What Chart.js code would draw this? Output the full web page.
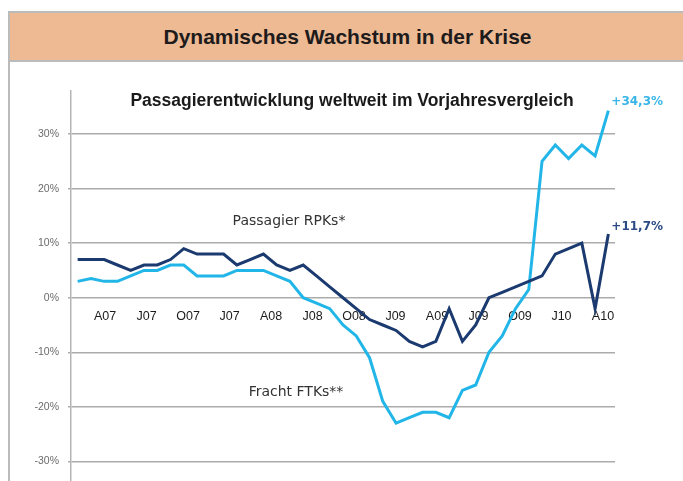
<!DOCTYPE html>
<html>
<head>
<meta charset="utf-8">
<title>Dynamisches Wachstum in der Krise</title>
<style>
  html, body { margin: 0; padding: 0; width: 683px; height: 481px; overflow: hidden; background: #fff; }
  .head {
    position: absolute; left: 8px; top: 11px; width: 690px; height: 47px;
    background: #EDBA93; border: 2px solid #BBBBBB; border-right: none;
    font: bold 21px "Liberation Sans", Arial, sans-serif; color: #1E1B1C;
    line-height: 47px; text-align: left;
  }
  .head span { display: inline-block; width: 675px; text-align: center; }
  .frame { position: absolute; left: 8px; top: 62px; width: 2px; height: 420px; background: #BBBBBB; }
  canvas { position: absolute; left: 0; top: 0; }
</style>
</head>
<body>
<canvas id="growthChart" width="683" height="481"></canvas>
<div class="head"><span>Dynamisches Wachstum in der Krise</span></div>
<div class="frame"></div>
<script src="https://cdn.jsdelivr.net/npm/chart.js@4/dist/chart.umd.min.js"></script>
<script>
  // monthly values, % change vs. previous year
  const rpk = [7, 7, 7, 6, 5, 6, 6, 7, 9, 8, 8, 8, 6, 7, 8, 6, 5, 6, 4, 2, 0, -2, -4, -5, -6, -8, -9, -8, -2, -8, -5, 0, 1, 2, 3, 4, 8, 9, 10, -2, 11.7];
  const ftk = [3, 3.5, 3, 3, 4, 5, 5, 6, 6, 4, 4, 4, 5, 5, 5, 4, 3, 0, -1, -2, -5, -7, -11, -19, -23, -22, -21, -21, -22, -17, -16, -10, -7, -2, 1.5, 25, 28, 25.5, 28, 26, 34.3];
  const periods = rpk.map((v, i) => 'M' + (i + 1));

  // axis labels as printed under the zero line
  const quarterLabels = ['A07', 'J07', 'O07', 'J07', 'A08', 'J08', 'O08', 'J09', 'A09', 'J09', 'O09', 'J10', 'A10'];
  const yTicks = [-30, -20, -10, 0, 10, 20, 30];

  const subtitle = 'Passagierentwicklung weltweit im Vorjahresvergleich';
  const rpkName = 'Passagier RPKs*';
  const ftkName = 'Fracht FTKs**';
  const rpkLast = '+11,7%';
  const ftkLast = '+34,3%';

  const navy = '#1B3A6F';
  const cyan = '#22B6E8';

  const textPlugin = {
    id: 'texts',
    afterDatasetsDraw(chart) {
      let ctx = chart.ctx;
      let xs = chart.scales.x, ys = chart.scales.y;
      ctx.save();
      ctx.textBaseline = 'alphabetic';

      ctx.fillStyle = '#1A1A1A';
      ctx.textAlign = 'center';
      ctx.font = 'bold 17.5px "Liberation Sans", Arial, sans-serif';
      ctx.fillText(subtitle, 352, 106);

      ctx.fillStyle = '#333333';
      ctx.font = '14px "DejaVu Sans", Verdana, sans-serif';
      ctx.fillText(rpkName, 289, 225);
      ctx.fillText(ftkName, 296, 396);

      // end values next to the last points
      let last = rpk.length - 1;
      ctx.textAlign = 'left';
      ctx.font = 'bold 12px "DejaVu Sans", Verdana, sans-serif';
      ctx.fillStyle = '#3AB6E6';
      ctx.fillText(ftkLast, xs.getPixelForValue(last) + 3, ys.getPixelForValue(ftk[last]) - 6);
      ctx.fillStyle = '#2C4B86';
      ctx.fillText(rpkLast, xs.getPixelForValue(last) + 3, ys.getPixelForValue(rpk[last]) - 4);
      ctx.restore();
    }
  };

  let ctx = document.getElementById('growthChart').getContext('2d');
  let growthChart = new Chart(ctx, {
    type: 'line',
    data: {
      labels: periods,
      datasets: [
        {
          label: rpkName,
          data: rpk,
          borderColor: navy,
          borderWidth: 3,
          pointRadius: 0,
          tension: 0,
          fill: false
        },
        {
          label: ftkName,
          data: ftk,
          borderColor: cyan,
          borderWidth: 3,
          pointRadius: 0,
          tension: 0,
          fill: false
        }
      ]
    },
    options: {
      responsive: false,
      animation: false,
      layout: { padding: { left: 0, top: 91, right: 68, bottom: 0 } },
      plugins: {
        legend: { display: false },
        title: { display: false },
        tooltip: { enabled: false }
      },
      scales: {
        x: {
          type: 'category',
          display: false,
          offset: true
        },
        xq: {
          axis: 'x',
          type: 'linear',
          position: { y: 0 },
          min: -0.82,
          max: 12.29,
          afterBuildTicks: s => { s.ticks = quarterLabels.map((l, i) => ({ value: i })); },
          grid: { display: false, drawTicks: false },
          border: { display: false },
          ticks: {
            autoSkip: false,
            maxRotation: 0,
            padding: 11,
            color: '#1A1A1A',
            font: { family: '"Liberation Sans", Arial, sans-serif', size: 12.5 },
            callback: (v, i) => quarterLabels[i]
          }
        },
        y: {
          min: -33.6,
          max: 37.9,
          afterBuildTicks: s => { s.ticks = yTicks.map(v => ({ value: v })); },
          afterFit: s => { s.width = 71; s.paddingTop = 0; s.paddingBottom = 0; },
          grid: { color: '#ABABAB', lineWidth: 1.5, tickLength: 3 },
          border: { color: '#B5B5B5', width: 1.5 },
          ticks: {
            padding: 9,
            color: '#6B6B6B',
            font: { family: '"Liberation Sans", Arial, sans-serif', size: 10.5 },
            callback: v => v + '%'
          }
        }
      }
    },
    plugins: [textPlugin]
  });
</script>
</body>
</html>
